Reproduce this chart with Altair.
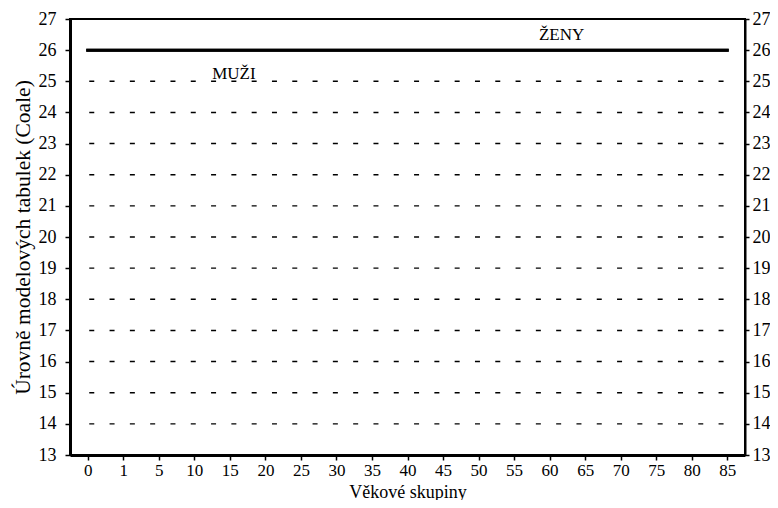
import altair as alt
import pandas as pd

# ---- data ----
age_groups = ["0", "1", "5", "10", "15", "20", "25", "30", "35", "40",
              "45", "50", "55", "60", "65", "70", "75", "80", "85"]
muzi_level = [26, 26, 26, 26, 26, 26, 26, 26, 26, 26,
              26, 26, 26, 26, 26, 26, 26, 26, 26]
zeny_level = [26, 26, 26, 26, 26, 26, 26, 26, 26, 26,
              26, 26, 26, 26, 26, 26, 26, 26, 26]
grid_levels = [14, 15, 16, 17, 18, 19, 20, 21, 22, 23, 24, 25]
y_ticks = [13, 14, 15, 16, 17, 18, 19, 20, 21, 22, 23, 24, 25, 26, 27]

series_names = ["MUŽI", "ŽENY"]

df = pd.DataFrame({
    "vek": age_groups + age_groups,
    "level": muzi_level + zeny_level,
    "pohlavi": [series_names[0]] * len(age_groups) + [series_names[1]] * len(age_groups),
})
grid_df = pd.DataFrame({
    "level": grid_levels,
    "x_start": [age_groups[0]] * len(grid_levels),
    "x_end": [age_groups[-1]] * len(grid_levels),
})

W, H = 675, 436
FONT = "Liberation Serif"

x_scale = alt.Scale(domain=age_groups, type="point", padding=0.5)
y_scale = alt.Scale(domain=[13, 27], nice=False, zero=False)

left_axis = alt.Axis(values=y_ticks, title="Úrovně modelových tabulek (Coale)",
                     titleFontSize=21.5, titleFontWeight="normal", titlePadding=4,
                     labelFontSize=18, labelPadding=9, tickSize=5, tickWidth=1.5,
                     tickColor="black", domainColor="black", domainWidth=3,
                     labelColor="black", titleColor="black", grid=False)
right_axis = alt.Axis(values=y_ticks, orient="right", title=None,
                      labelFontSize=18, labelPadding=3, tickSize=4, tickWidth=1.5,
                      tickColor="black", domainColor="black", domainWidth=2,
                      labelColor="black", grid=False)
x_axis = alt.Axis(title="Věkové skupiny", titleFontSize=18, titleFontWeight="normal",
                  titleY=42, titleBaseline="alphabetic",
                  labelFontSize=17, labelAngle=0, labelPadding=2,
                  tickSize=5, tickWidth=1.5, tickColor="black", domainColor="black",
                  domainWidth=3, labelColor="black", titleColor="black", grid=False)

grid = alt.Chart(grid_df).mark_rule(
    color="black", strokeWidth=1.4, strokeDash=[5, 15.3], strokeDashOffset=-1.5
).encode(
    x=alt.X("x_start:N", scale=x_scale, axis=x_axis, sort=age_groups),
    x2="x_end",
    y=alt.Y("level:Q", scale=y_scale, axis=left_axis),
)

lines = alt.Chart(df).mark_line(color="black", strokeWidth=3, strokeCap="square").encode(
    x=alt.X("vek:N", scale=x_scale, axis=x_axis, sort=age_groups),
    y=alt.Y("level:Q", scale=y_scale, axis=right_axis),
    detail="pohlavi:N",
)

lbl_muzi = alt.Chart().mark_text(
    text=series_names[0], font=FONT, fontSize=17, color="black", dx=4, baseline="middle"
).encode(
    x=alt.X(datum="15", scale=x_scale),
    y=alt.Y(datum=25.25, scale=y_scale, axis=None),
)
lbl_zeny = alt.Chart().mark_text(
    text=series_names[1], font=FONT, fontSize=17, color="black", dx=12, baseline="middle"
).encode(
    x=alt.X(datum="60", scale=x_scale),
    y=alt.Y(datum=26.5, scale=y_scale, axis=None),
)

chart = alt.layer(grid, lines, lbl_muzi, lbl_zeny).resolve_axis(
    y="independent"
).properties(
    width=W, height=H,
    autosize=alt.AutoSizeParams(type="none"),
    padding={"left": 62, "top": 11, "right": 25, "bottom": 45},
).configure(
    font=FONT,
).configure_view(
    stroke="black", strokeWidth=2,
).configure_axis(
    labelFont=FONT, titleFont=FONT,
)

chart.save("out.html", embed_options={"renderer": "svg", "actions": False})
